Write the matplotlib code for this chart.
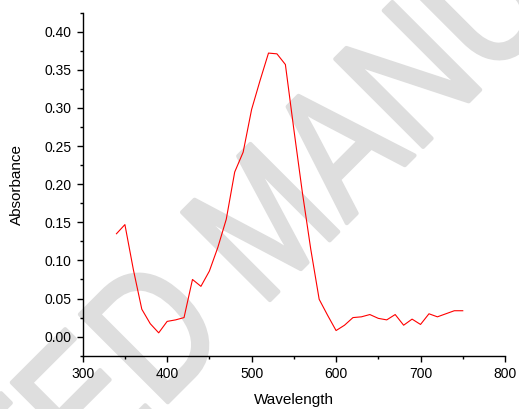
import matplotlib
matplotlib.use("Agg")
import matplotlib.pyplot as plt
import matplotlib.patheffects as pe
from matplotlib.transforms import Affine2D
from matplotlib.ticker import MultipleLocator

# UV-Vis absorption spectrum
wavelength = [340, 350, 360, 370, 380, 390, 400, 410, 420, 430, 440, 450, 460,
              470, 480, 490, 500, 510, 520, 530, 540, 550, 560, 570, 580, 590,
              600, 610, 620, 630, 640, 650, 660, 670, 680, 690, 700, 710, 720,
              730, 740, 750]
absorbance = [0.135, 0.147, 0.088, 0.036, 0.017, 0.005, 0.020, 0.022, 0.025,
              0.075, 0.066, 0.086, 0.117, 0.154, 0.216, 0.242, 0.298, 0.336,
              0.372, 0.371, 0.357, 0.272, 0.190, 0.115, 0.049, 0.028, 0.008,
              0.015, 0.025, 0.026, 0.029, 0.024, 0.022, 0.029, 0.015, 0.023,
              0.016, 0.030, 0.026, 0.030, 0.034, 0.034]

x_ticks = [300, 400, 500, 600, 700, 800]
y_ticks = [0.00, 0.05, 0.10, 0.15, 0.20, 0.25, 0.30, 0.35, 0.40]


class NarrowStroke(pe.Stroke):
    """Stroke effect that also squeezes the glyphs along the text direction."""

    def __init__(self, squeeze, **kwargs):
        super().__init__(**kwargs)
        self._squeeze = squeeze

    def draw_path(self, renderer, gc, tpath, affine, rgbFace):
        squeezed = Affine2D().scale(self._squeeze, 1.0) + affine
        super().draw_path(renderer, gc, tpath, squeezed, rgbFace)


plt.rcParams['font.family'] = ['Liberation Sans', 'DejaVu Sans']

fig = plt.figure(figsize=(5.19, 4.09), dpi=100)
ax = fig.add_axes([0.1593, 0.1303, 0.8137, 0.8387])
ax.set_facecolor('none')

# background watermark
fig.text(-0.6224, -1.1834, "ACCEPTED MANUSCRIPT",
         family='Liberation Sans', fontweight='normal',
         fontsize=130, color='#dedede', rotation=45,
         rotation_mode='anchor', ha='left', va='baseline', zorder=-5,
         path_effects=[NarrowStroke(0.80, linewidth=3, foreground='#dedede',
                                    capstyle='round', joinstyle='round')])

ax.plot(wavelength, absorbance, color='red', linewidth=0.8)

ax.set_xlim(300, 800)
ax.set_ylim(-0.025, 0.425)
ax.set_xticks(x_ticks)
ax.set_yticks(y_ticks)
ax.set_yticklabels([f"{v:.2f}" for v in y_ticks])
ax.xaxis.set_minor_locator(MultipleLocator(50))
ax.yaxis.set_minor_locator(MultipleLocator(0.025))

for side in ('top', 'right'):
    ax.spines[side].set_visible(False)
for side in ('left', 'bottom'):
    ax.spines[side].set_linewidth(1.0)

ax.tick_params(which='major', direction='out', length=4.3, width=1.0,
               labelsize=10, colors='black')
ax.tick_params(which='minor', direction='out', length=2.3, width=1.0)

ax.set_xlabel("Wavelength", fontsize=11)
ax.set_ylabel("Absorbance", fontsize=11)
ax.xaxis.set_label_coords(0.5, -0.109)
ax.yaxis.set_label_coords(-0.14, 0.5)

fig.savefig("out.png", dpi=100)
